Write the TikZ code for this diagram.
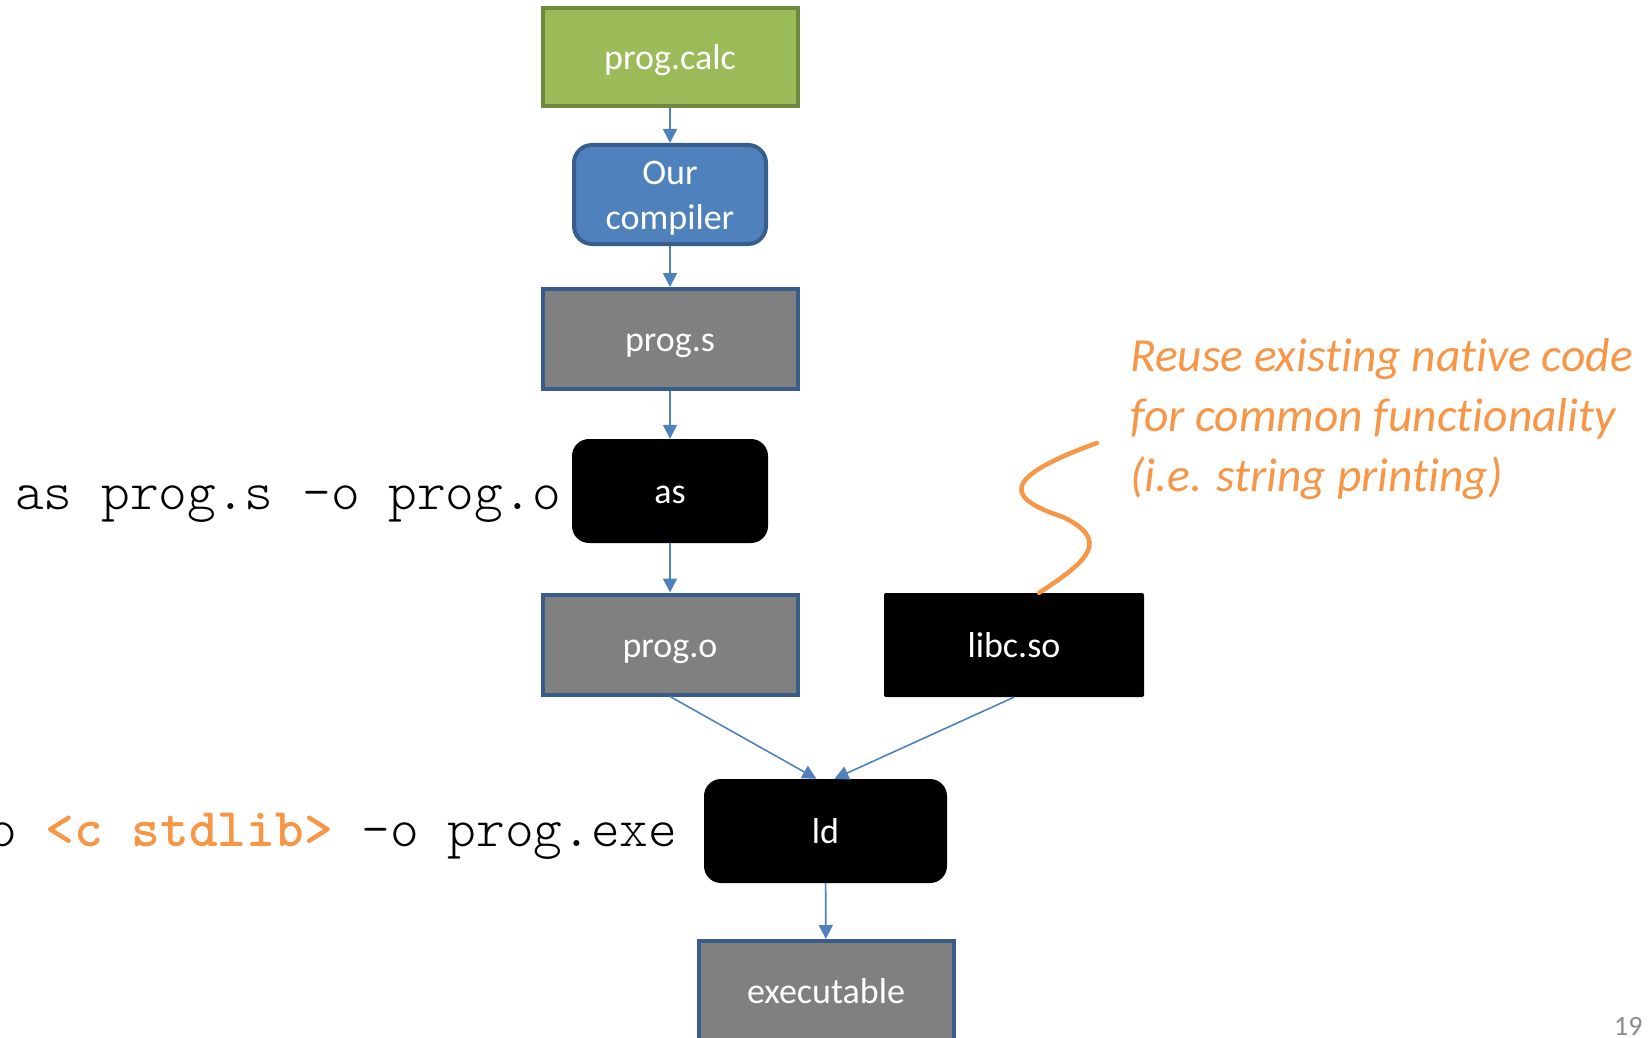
\documentclass[tikz,border=0pt]{standalone}
\usepackage{fontspec}
\setmainfont{Carlito}[Ligatures=NoCommon]
\setmonofont{lmmonolt10-regular.otf}[BoldFont=lmmonolt10-bold.otf]
\usepackage{tikz}
\usetikzlibrary{arrows.meta}

\definecolor{accblue}{HTML}{4F81BD}
\definecolor{edgeblue}{HTML}{385D8A}
\definecolor{leafgreen}{HTML}{9BBB59}
\definecolor{edgegreen}{HTML}{71893F}
\definecolor{hiorange}{HTML}{F79646}
\definecolor{pagegray}{HTML}{8C8C8C}

\begin{document}
\begin{tikzpicture}[x=1pt,y=-1pt,
  stage/.style={inner sep=0pt,text=white,align=center,text height=33pt,text depth=8pt,
    font=\fontsize{36}{45}\selectfont},
  filebox/.style={stage,draw=edgeblue,fill=gray,line width=4pt,minimum width=255pt,minimum height=100pt},
  srcbox/.style={stage,draw=edgegreen,fill=leafgreen,line width=4pt,minimum width=255pt,minimum height=98pt},
  compbox/.style={stage,draw=edgeblue,fill=accblue,line width=4pt,rounded corners=18pt,minimum width=192pt,minimum height=99pt,text height=78pt},
  toolbox/.style n args={2}{stage,fill=black,rounded corners=17pt,minimum width=#1pt,minimum height=#2pt},
  cmd/.style={anchor=base west,inner sep=0pt,font=\fontsize{54.7}{60}\ttfamily},
  flow/.style={draw=accblue,line width=1.6pt,-{Triangle[length=14pt,width=14pt]}},
  squiggle/.style={draw=hiorange,line width=4.5pt,line cap=round}]
\path[use as bounding box,clip] (0,0) rectangle (1650,1038);

\node[srcbox] (calc) at (670,57) {prog.calc};
\node[compbox] (comp) at (670,194.5) {Our\\compiler};
\node[filebox] (progs) at (670,339) {prog.s};
\node[toolbox={196}{104}] (as) at (670,491) {as};
\node[filebox] (progo) at (670,644.5) {prog.o};
\node[toolbox={260}{104},rounded corners=2pt] (libc) at (1014,645) {libc.so};
\node[toolbox={243}{104}] (ld) at (825.5,831) {ld};
\node[filebox] (exe) at (826,991) {executable};

% shell commands
\node[cmd] (ascmd) at (15,509) {as prog.s –o prog.o};
\node[cmd] (ldcmd) at (-12,846) {o \textcolor{hiorange}{\bfseries <c stdlib>} –o prog.exe};

\foreach \a/\b in {calc/comp,comp/progs,progs/as,as/progo,ld/exe}
  \draw[flow] (\a) -- (\b);
\draw[flow] (progo.south) -- ([xshift=-9pt]ld.north);
\draw[flow] (libc.south) -- ([xshift=9pt]ld.north);

% note on libc
\node[anchor=base west,inner sep=0pt,align=left,text=hiorange,
  font=\fontsize{47.5}{60}\selectfont\itshape] (note) at (1130,491)
  {Reuse existing native code\\for common functionality\\(i.e. string printing)};
\coordinate (callout) at (1097,443);
\draw[squiggle] (callout) .. controls (1000,478) and (1005,498) .. (1063,517)
  .. controls (1110,540) and (1090,560) .. ([xshift=25pt]libc.north);

\node[anchor=base west,inner sep=0pt,text=pagegray,font=\fontsize{28}{28}\selectfont] (pagenum) at (1614,1035) {19};
\end{tikzpicture}
\end{document}
